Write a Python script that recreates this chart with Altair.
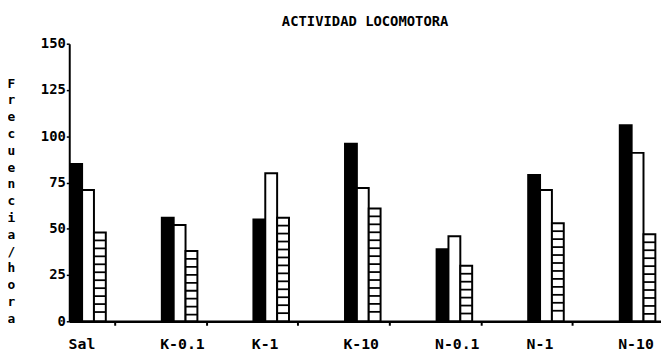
import altair as alt
import pandas as pd

categories = ["Sal", "K-0.1", "K-1", "K-10", "N-0.1", "N-1", "N-10"]
black_vals = [85, 56, 55, 96, 39, 79, 106]
white_vals = [71, 52, 80, 72, 46, 71, 91]
striped_vals = [48, 38, 56, 61, 30, 53, 47]
series = ["negro", "blanco", "rayado"]
y_ticks = [0, 25, 50, 75, 100, 125, 150]
title_text = "ACTIVIDAD LOCOMOTORA"
y_title = "Frecuencia/hora"

rows = []
for i, c in enumerate(categories):
    for s, vals in zip(series, [black_vals, white_vals, striped_vals]):
        rows.append({"grupo": c, "serie": s, "valor": vals[i]})
df = pd.DataFrame(rows)

FONT = "DejaVu Sans Mono"

x_axis = alt.Axis(
    title=None, labelAngle=0, labelAlign="left", labelOffset=-47,
    labelFont=FONT, labelFontSize=15, labelFontWeight="bold", labelColor="black",
    labelPadding=12, labelBaseline="top", labelOverlap=False,
    tickSize=4, tickWidth=2, tickColor="black",
    domainColor="black", domainWidth=2.5, grid=False,
)
x_enc = alt.X(
    "grupo:N", sort=categories,
    scale=alt.Scale(domain=categories, range=[0, 649], paddingInner=0, paddingOuter=0),
    axis=x_axis,
)
xo_enc = alt.XOffset(
    "serie:N", sort=series,
    scale=alt.Scale(domain=series, range=[1, 37], paddingInner=0, paddingOuter=0),
)
y_axis = alt.Axis(
    values=y_ticks, grid=False, labelFlush=False,
    labelFont=FONT, labelFontSize=14, labelFontWeight="bold", labelColor="black",
    labelPadding=1, tickSize=3, tickWidth=1.5, tickColor="black",
    domainColor="black", domainWidth=2,
    title=list(y_title), titleAngle=0, titleFont=FONT, titleFontSize=13,
    titleFontWeight="bold", titleColor="black", titleLineHeight=17,
    titleAlign="center", titleBaseline="top", titleX=-59, titleY=34,
)

base = alt.Chart(df)

bars = base.mark_bar(stroke="black", strokeWidth=2).encode(
    x=x_enc,
    xOffset=xo_enc,
    y=alt.Y("valor:Q", scale=alt.Scale(domain=[0, 150], nice=False), axis=y_axis),
    fill=alt.Fill("serie:N", scale=alt.Scale(domain=series, range=["black", "white", "white"]), legend=None),
)

stripes = base.transform_filter(
    alt.datum.serie == "rayado"
).transform_calculate(
    raya="sequence(datum.valor - 4.3, 1.5, -4.3)"
).transform_flatten(["raya"]).mark_tick(
    color="black", thickness=1.8, size=12, opacity=1
).encode(
    x=x_enc,
    xOffset=xo_enc,
    y=alt.Y("raya:Q", scale=alt.Scale(domain=[0, 150], nice=False), axis=y_axis),
)

chart = alt.layer(bars, stripes).properties(
    width=599, height=281,
    autosize=alt.AutoSizeParams(type="none"),
    padding={"left": 62, "top": 34, "right": 0, "bottom": 33},
    background="white",
    title=alt.TitleParams(title_text, font=FONT, fontSize=14, fontWeight="bold",
                          color="black", anchor="middle", offset=8),
).configure_view(stroke=None)

chart.save("out.html", embed_options={"renderer": "svg", "actions": False})
